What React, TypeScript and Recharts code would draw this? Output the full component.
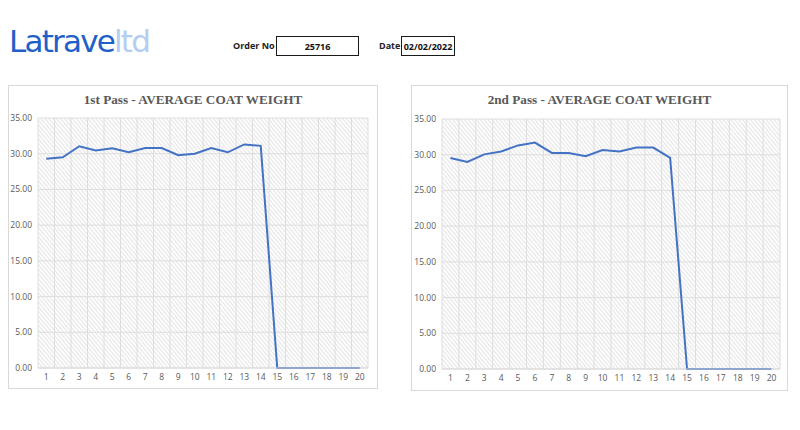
import { LineChart, Line, XAxis, YAxis, CartesianGrid } from "recharts"

const POSITIONS = ["1","2","3","4","5","6","7","8","9","10","11","12","13","14","15","16","17","18","19","20"]
const PASS1 = [29.3, 29.5, 31.05, 30.45, 30.75, 30.2, 30.8, 30.8, 29.8, 30.0, 30.8, 30.2, 31.3, 31.1, 0, 0, 0, 0, 0, 0]
const PASS2 = [29.55, 29.0, 30.05, 30.45, 31.3, 31.7, 30.25, 30.25, 29.8, 30.65, 30.45, 31.0, 31.0, 29.55, 0, 0, 0, 0, 0, 0]
const Y_TICKS = [0, 5, 10, 15, 20, 25, 30, 35]

const ORDER_NO = "25716"
const ORDER_DATE = "02/02/2022"

const GRAY_TEXT = "#595959"
const AXIS_FONT = "'Open Sans', sans-serif"

interface PanelProps {
  id: string
  title: string
  values: number[]
  left: number
  width: number
  height: number
  margin: { top: number; right: number; left: number; bottom: number }
  yWidth: number
}

function Panel({ id, title, values, left, width, height, margin, yWidth }: PanelProps) {
  const rows = POSITIONS.map((p, i) => ({ pos: p, value: values[i] }))
  const plotW = width - 2 - margin.left - margin.right - yWidth
  const band = plotW / POSITIONS.length

  return (
    <div style={{
      position: "absolute", left, top: 85, width: width - 2, height: height - 2,
      border: "1px solid #d9d9d9", background: "#fff",
    }}>
      <div style={{
        position: "absolute", left: 0, right: 0, top: 6, textAlign: "center",
        fontFamily: "'Liberation Serif', serif", fontWeight: 700, fontSize: 13.2,
        color: GRAY_TEXT,
      }}>
        {title}
      </div>
      <div style={{ position: "absolute", left: 0, top: 0 }}>
        <LineChart width={width - 2} height={height - 2} data={rows} margin={margin}>
          <defs>
            <pattern id={id} width={3} height={3} patternUnits="userSpaceOnUse" patternTransform="rotate(-40)">
              <rect width={3} height={3} fill="#ffffff" />
              <rect width={1.2} height={3} fill="#e6e6e6" />
            </pattern>
          </defs>
          <CartesianGrid
            fill={`url(#${id})`}
            stroke="#dedede"
            strokeWidth={1}
            verticalCoordinatesGenerator={({ offset }: any) =>
              POSITIONS.map((_, i) => offset.left + i * (offset.width / POSITIONS.length)).concat([offset.left + offset.width])
            }
          />
          <XAxis
            dataKey="pos"
            interval={0}
            padding={{ left: band / 2, right: band / 2 }}
            axisLine={{ stroke: "#d9d9d9" }}
            tickLine={false}
            tickSize={4}
            tickMargin={2}
            height={20}
            tick={{ fontSize: 8.5, fill: GRAY_TEXT, fontFamily: AXIS_FONT }}
          />
          <YAxis
            domain={[0, 35]}
            ticks={Y_TICKS}
            width={yWidth}
            axisLine={false}
            tickLine={false}
            tickSize={4}
            tickMargin={2}
            tickFormatter={(v: number) => v.toFixed(2)}
            tick={{ fontSize: 8.5, fill: GRAY_TEXT, fontFamily: AXIS_FONT }}
          />
          <Line
            type="linear"
            dataKey="value"
            stroke="#4472c4"
            strokeWidth={2}
            dot={false}
            isAnimationActive={false}
          />
        </LineChart>
      </div>
    </div>
  )
}

export default function App() {
  const boxStyle = {
    position: "absolute" as const, top: 36, height: 18, border: "1.5px solid #1a1a1a",
    fontFamily: "'Open Sans', sans-serif", fontWeight: 700, fontSize: 9,
    display: "flex", alignItems: "center", justifyContent: "center", color: "#111",
  }
  const labelStyle = {
    position: "absolute" as const, top: 39, fontFamily: "'Open Sans', sans-serif",
    fontWeight: 700, fontSize: 9, color: "#222",
  }

  return (
    <div style={{ position: "relative", width: 800, height: 430, margin: -8, background: "#fff", overflow: "hidden" }}>
      <div style={{
        position: "absolute", left: 9, top: 26, fontFamily: "'DejaVu Sans', sans-serif",
        fontSize: 31, letterSpacing: -1.8, fontWeight: 400, lineHeight: 1,
      }}>
        <span style={{ color: "#1f5fc8" }}>Latrave</span>
        <span style={{ color: "#b5cdf2" }}>ltd</span>
      </div>

      <div style={{ ...labelStyle, left: 233 }}>Order No</div>
      <div style={{ ...boxStyle, left: 276, width: 81 }}>{ORDER_NO}</div>
      <div style={{ ...labelStyle, left: 379 }}>Date</div>
      <div style={{ ...boxStyle, left: 401, width: 52 }}>{ORDER_DATE}</div>

      <Panel
        id="hatch1"
        title="1st Pass - AVERAGE COAT WEIGHT"
        values={PASS1}
        left={8}
        width={370}
        height={304}
        margin={{ top: 32, right: 9, left: 0, bottom: 0 }}
        yWidth={29}
      />
      <Panel
        id="hatch2"
        title="2nd Pass - AVERAGE COAT WEIGHT"
        values={PASS2}
        left={411}
        width={377}
        height={306}
        margin={{ top: 33, right: 7, left: 0, bottom: 1 }}
        yWidth={30}
      />
    </div>
  )
}
